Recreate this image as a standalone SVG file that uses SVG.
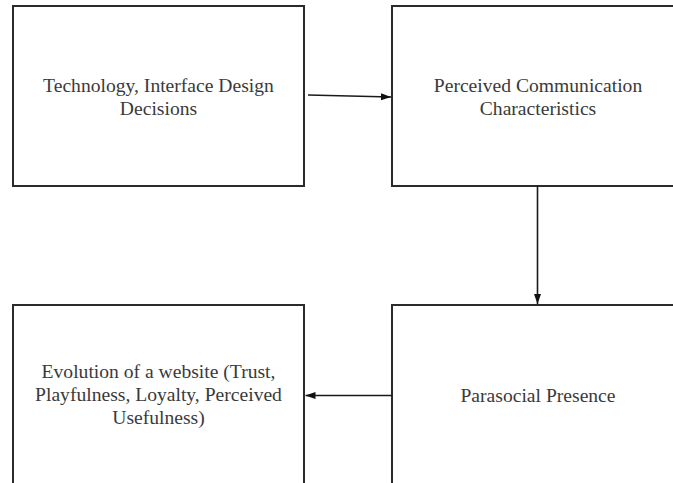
<svg xmlns="http://www.w3.org/2000/svg" width="673" height="483" viewBox="0 0 673 483">
<style>
.box{fill:#ffffff;stroke:#2b2b2b;stroke-width:2}
.lbl{font-family:"Liberation Serif","Times New Roman",serif;font-size:19.6px;fill:#3a3a3a;text-anchor:middle}
.conn{stroke:#1a1a1a;stroke-width:1.6;fill:none}
</style>
<defs>
<marker id="ah" markerUnits="userSpaceOnUse" markerWidth="10" markerHeight="10" viewBox="0 0 10 10" refX="10" refY="5" orient="auto">
<path d="M0,1.5 L10,5 L0,8.5 Z" fill="#111"/>
</marker>
</defs>
<rect width="673" height="483" fill="#ffffff"/>
<g id="n1">
<rect class="box" x="13" y="6" width="291" height="180"/>
<text class="lbl" x="158.5" y="91.5">Technology, Interface Design</text>
<text class="lbl" x="158.5" y="115">Decisions</text>
</g>
<g id="n2">
<rect class="box" x="392" y="6" width="292" height="180"/>
<text class="lbl" x="538" y="91.5">Perceived Communication</text>
<text class="lbl" x="538" y="115">Characteristics</text>
</g>
<g id="n3">
<rect class="box" x="392" y="305" width="292" height="190"/>
<text class="lbl" x="538" y="402">Parasocial Presence</text>
</g>
<g id="n4">
<rect class="box" x="13" y="305" width="291" height="190"/>
<text class="lbl" x="158.5" y="378">Evolution of a website (Trust,</text>
<text class="lbl" x="158.5" y="401">Playfulness, Loyalty, Perceived</text>
<text class="lbl" x="158.5" y="423.5">Usefulness)</text>
</g>
<g id="connectors">
<line class="conn" x1="308" y1="95" x2="391" y2="97" marker-end="url(#ah)"/>
<line class="conn" x1="537.5" y1="186" x2="537.5" y2="304" marker-end="url(#ah)"/>
<line class="conn" x1="392" y1="395.5" x2="305.5" y2="395.5" marker-end="url(#ah)"/>
</g>
</svg>
